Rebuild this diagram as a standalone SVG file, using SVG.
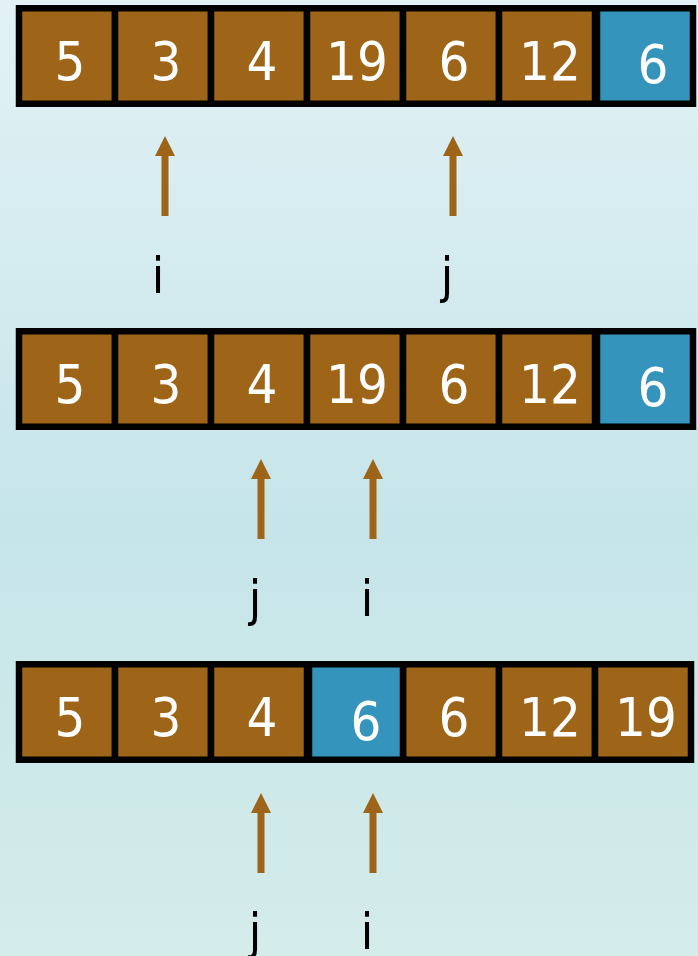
<svg xmlns="http://www.w3.org/2000/svg" xmlns:xlink="http://www.w3.org/1999/xlink" width="698" height="956" viewBox="0 0 698 956">
<defs>
<linearGradient id="bg" x1="0" y1="0" x2="0" y2="1">
<stop offset="0" stop-color="#e2f2f6"/>
<stop offset="0.55" stop-color="#c6e5e9"/>
<stop offset="1" stop-color="#d4ecea"/>
</linearGradient>
<g id="arrow">
<polygon points="-10,20 0,0 10,20" fill="#9e6518"/>
<rect x="-3.5" y="19" width="7" height="61" fill="#9e6518"/>
</g>
<style>
.c{fill:#9e6518;stroke:#000;stroke-width:6.5}
.b{fill:#3594bb;stroke:#000;stroke-width:6.5}
.v{font-family:"DejaVu Sans Condensed","DejaVu Sans",sans-serif;font-stretch:condensed;font-size:54px;fill:#fff;text-anchor:middle}
.l{font-family:"DejaVu Sans Condensed","DejaVu Sans",sans-serif;font-stretch:condensed;font-size:50px;fill:#000;text-anchor:middle}
</style>
</defs>
<rect width="698" height="956" fill="url(#bg)"/>

<g id="row1">
<g id="r1c0"><rect class="c" x="19" y="8.25" width="96" height="95.5"/><text class="v" x="70" y="80">5</text></g>
<g id="r1c1"><rect class="c" x="115" y="8.25" width="96" height="95.5"/><text class="v" x="166" y="80">3</text></g>
<g id="r1c2"><rect class="c" x="211" y="8.25" width="96" height="95.5"/><text class="v" x="262" y="80">4</text></g>
<g id="r1c3"><rect class="c" x="307" y="8.25" width="96" height="95.5"/><text class="v" x="357" y="80">19</text></g>
<g id="r1c4"><rect class="c" x="403" y="8.25" width="96" height="95.5"/><text class="v" x="454" y="80">6</text></g>
<g id="r1c5"><rect class="c" x="499" y="8.25" width="96" height="95.5"/><text class="v" x="550" y="80">12</text></g>
<g id="r1c6"><rect class="b" x="597" y="8.25" width="96" height="95.5"/><text class="v" x="653" y="83">6</text></g>
</g>

<g id="row2">
<g id="r2c0"><rect class="c" x="19" y="331.25" width="96" height="95.5"/><text class="v" x="70" y="403">5</text></g>
<g id="r2c1"><rect class="c" x="115" y="331.25" width="96" height="95.5"/><text class="v" x="166" y="403">3</text></g>
<g id="r2c2"><rect class="c" x="211" y="331.25" width="96" height="95.5"/><text class="v" x="262" y="403">4</text></g>
<g id="r2c3"><rect class="c" x="307" y="331.25" width="96" height="95.5"/><text class="v" x="357" y="403">19</text></g>
<g id="r2c4"><rect class="c" x="403" y="331.25" width="96" height="95.5"/><text class="v" x="454" y="403">6</text></g>
<g id="r2c5"><rect class="c" x="499" y="331.25" width="96" height="95.5"/><text class="v" x="550" y="403">12</text></g>
<g id="r2c6"><rect class="b" x="597" y="331.25" width="96" height="95.5"/><text class="v" x="653" y="406">6</text></g>
</g>

<g id="row3">
<g id="r3c0"><rect class="c" x="19" y="664.25" width="96" height="95.5"/><text class="v" x="70" y="736">5</text></g>
<g id="r3c1"><rect class="c" x="115" y="664.25" width="96" height="95.5"/><text class="v" x="166" y="736">3</text></g>
<g id="r3c2"><rect class="c" x="211" y="664.25" width="96" height="95.5"/><text class="v" x="262" y="736">4</text></g>
<g id="r3c4"><rect class="c" x="403" y="664.25" width="96" height="95.5"/><text class="v" x="454" y="736">6</text></g>
<g id="r3c5"><rect class="c" x="499" y="664.25" width="96" height="95.5"/><text class="v" x="550" y="736">12</text></g>
<g id="r3c6"><rect class="c" x="595" y="664.25" width="96" height="95.5"/><text class="v" x="646" y="736">19</text></g>
<g id="r3c3"><rect class="b" x="309" y="664.25" width="94" height="95.5"/><text class="v" x="366" y="740">6</text></g>
</g>

<g id="connectors">
<use xlink:href="#arrow" transform="translate(165,136)"/>
<use xlink:href="#arrow" transform="translate(453,136)"/>
<use xlink:href="#arrow" transform="translate(261,459)"/>
<use xlink:href="#arrow" transform="translate(373,459)"/>
<use xlink:href="#arrow" transform="translate(261,793)"/>
<use xlink:href="#arrow" transform="translate(373,793)"/>
</g>

<g id="labels">
<text class="l" x="158" y="293">i</text>
<text class="l" x="447" y="293">j</text>
<text class="l" x="255" y="616">j</text>
<text class="l" x="367" y="616">i</text>
<text class="l" x="255" y="949">j</text>
<text class="l" x="367" y="949">i</text>
</g>
</svg>
